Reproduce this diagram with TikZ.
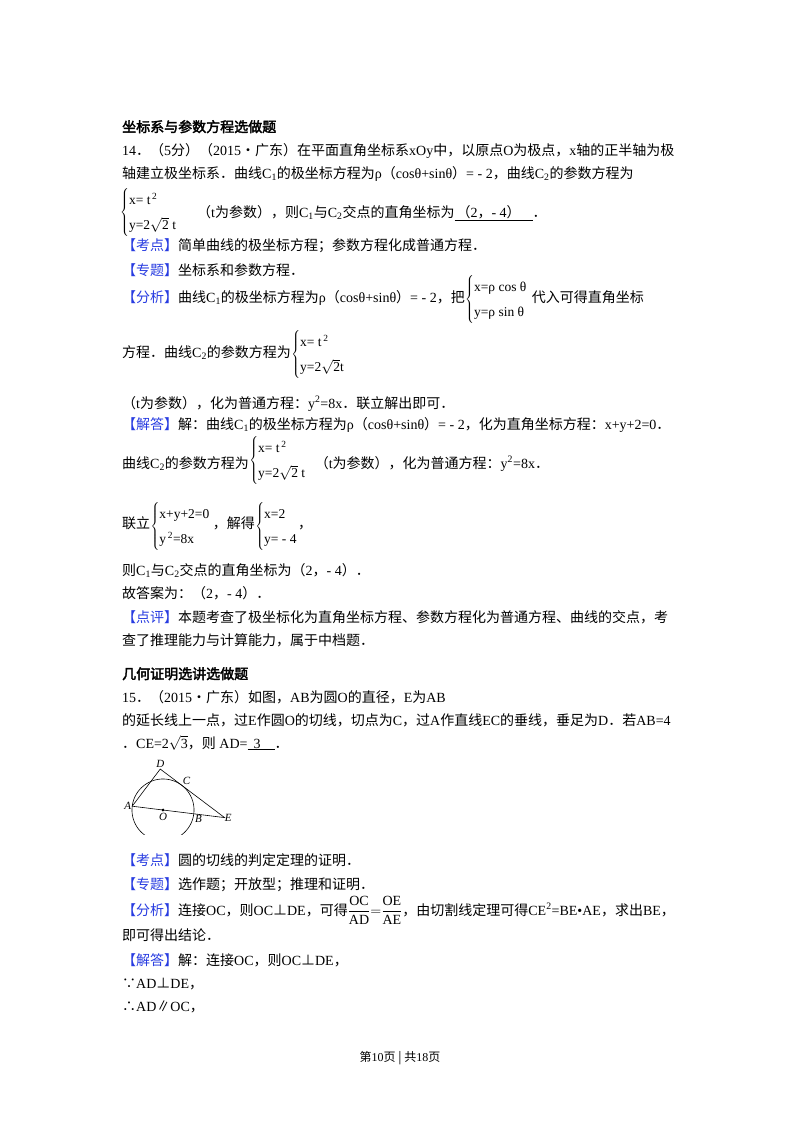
\documentclass[tikz,border=0pt]{standalone}
\usepackage{fontspec}
\setmainfont{Liberation Serif}
\newfontfamily\cjk{Noto Sans CJK SC}
\newfontfamily\cjkb[FakeBold=2.5]{Noto Sans CJK SC}
\definecolor{kblue}{RGB}{40,60,225}
\newcommand\z[1]{{\cjk #1}}
\newcommand\zb[1]{{\cjkb #1}}
\newcommand\bk[1]{\textcolor{kblue}{\z{【#1】}}}
\newcommand\sysm[2]{$\left\{\renewcommand\arraystretch{1.7}\begin{tabular}{@{}l@{}}#1\\ #2\end{tabular}\right.$}
\newcommand\rt[1]{$\sqrt{\mbox{#1}}$}
\begin{document}
\begin{tikzpicture}[x=1pt,y=-1pt,
  t/.style={anchor=base west,inner sep=0pt,font=\fontsize{14}{16}\selectfont},
  sy/.style={anchor=west,inner sep=0pt,font=\fontsize{13.5}{15}\selectfont},
  lab/.style={inner sep=0pt,font=\fontsize{11}{12}\selectfont\itshape}]
\useasboundingbox[fill=white] (0,0) rectangle (800,1132);
\node[t] (h1) at (122,132) {\zb{坐标系与参数方程选做题}};
\node[t] (l2) at (122,155) {14\z{．（}5\z{分）（}2015\z{•广东）在平面直角坐标系}xOy\z{中，以原点}O\z{为极点，}x\z{轴的正半轴为极}};
\node[t] (l3) at (122,178) {\z{轴建立极坐标系．曲线}C\textsubscript{1}\z{的极坐标方程为}ρ\z{（}cosθ+sinθ\z{）}= - 2\z{，曲线}C\textsubscript{2}\z{的参数方程为}};
\node[sy] (s1) at (120,212) {\sysm{x= t\textsuperscript{\,2}}{y=2\rt{2} t}};
\node[t] (l4) at (197,217) {\z{（}t\z{为参数），则}C\textsubscript{1}\z{与}C\textsubscript{2}\z{交点的直角坐标为}\underline{\hspace{2pt}\z{（}2\z{，}- 4\z{）}\hspace{12pt}}\z{．}};
\node[t] (l5) at (122,250) {\bk{考点}\z{简单曲线的极坐标方程；参数方程化成普通方程．}};
\node[t] (l6) at (122,275) {\bk{专题}\z{坐标系和参数方程．}};
\node[t] (l7) at (122,302) {\bk{分析}\z{曲线}C\textsubscript{1}\z{的极坐标方程为}ρ\z{（}cosθ+sinθ\z{）}= - 2\z{，把}};
\node[sy] (s2) at ([yshift=3pt]l7.base east) {\sysm{x=ρ cos θ}{y=ρ sin θ}};
\node[t] (l7b) at ([xshift=4pt]s2.east |- l7.base) {\z{代入可得直角坐标}};
\node[t] (l8) at (122,357) {\z{方程．曲线}C\textsubscript{2}\z{的参数方程为}};
\node[sy] (s3) at ([yshift=3pt]l8.base east) {\sysm{x= t\textsuperscript{\,2}}{y=2\rt{2}t}};
\node[t] (l9) at (122,408) {\z{（}t\z{为参数），化为普通方程：}y\textsuperscript{2}=8x\z{．联立解出即可．}};
\node[t] (l10) at (122,429) {\bk{解答}\z{解：曲线}C\textsubscript{1}\z{的极坐标方程为}ρ\z{（}cosθ+sinθ\z{）}= - 2\z{，化为直角坐标方程：}x+y+2=0\z{．}};
\node[t] (l11) at (122,468) {\z{曲线}C\textsubscript{2}\z{的参数方程为}};
\node[sy] (s4) at ([yshift=8pt]l11.base east) {\sysm{x= t\textsuperscript{\,2}}{y=2\rt{2} t}};
\node[t] (l11b) at ([xshift=8pt]s4.east |- l11.base) {\z{（}t\z{为参数），化为普通方程：}y\textsuperscript{2}=8x\z{．}};
\node[t] (l12) at (122,528) {\z{联立}};
\node[sy] (s5) at ([yshift=2pt]l12.base east) {\sysm{x+y+2=0}{y\textsuperscript{\,2}=8x}};
\node[t] (l12b) at ([xshift=2pt]s5.east |- l12.base) {\z{，解得}};
\node[sy] (s6) at ([yshift=2pt]l12b.base east) {\sysm{x=2}{y= - 4}};
\node[t] (l12c) at (s6.east |- l12.base) {\z{，}};
\node[t] (l13) at (122,575) {\z{则}C\textsubscript{1}\z{与}C\textsubscript{2}\z{交点的直角坐标为（}2\z{，}- 4\z{）．}};
\node[t] (l14) at (122,598) {\z{故答案为：（}2\z{，}- 4\z{）．}};
\node[t] (l15) at (122,622) {\bk{点评}\z{本题考查了极坐标化为直角坐标方程、参数方程化为普通方程、曲线的交点，考}};
\node[t] (l16) at (122,645) {\z{查了推理能力与计算能力，属于中档题．}};
\node[t] (h2) at (122,679) {\zb{几何证明选讲选做题}};
\node[t] (l17) at (122,702) {15\z{．（}2015\z{•广东）如图，}AB\z{为圆}O\z{的直径，}E\z{为}AB};
\node[t] (l18) at (122,725) {\z{的延长线上一点，过}E\z{作圆}O\z{的切线，切点为}C\z{，过}A\z{作直线}EC\z{的垂线，垂足为}D\z{．若}AB=4};
\node[t] (l19) at (122,748) {\z{．}CE=2\rt{3}\z{，则} AD=\underline{\hspace{6pt}3\hspace{14pt}}\z{．}};
% figure
\begin{scope}
\clip (120,755) rectangle (240,834);
\begin{scope}[shift={(163,810)},x={(30.8pt,-3.8pt)},y={(3.8pt,30.8pt)}]
\coordinate (O) at (0,0);
\coordinate (A) at (-1,0);
\coordinate (B) at (1,0);
\coordinate (E) at (2,0);
\coordinate (C) at (0.5,0.866);
\coordinate (D) at (-0.25,1.299);
\draw[line width=0.6pt] (O) circle [radius=1];
\draw[line width=0.6pt] (A) -- (E) -- (D) -- cycle;
\fill (O) circle [radius=0.05];
\end{scope}
\end{scope}
\node[lab,anchor=south] (lD) at ([yshift=1pt]D) {D};
\node[lab,anchor=south west] (lC) at ([xshift=1pt]C) {C};
\node[lab,anchor=east] (lA) at ([xshift=-1pt]A) {A};
\node[lab,anchor=north] (lO) at ([yshift=-3pt]O) {O};
\node[lab,anchor=north west] (lB) at ([xshift=1pt,yshift=-1pt]B) {B};
\node[lab,anchor=west] (lE) at (E) {E};
\node[t] (l20) at (122,865) {\bk{考点}\z{圆的切线的判定定理的证明．}};
\node[t] (l21) at (122,889) {\bk{专题}\z{选作题；开放型；推理和证明．}};
\node[t] (l22) at (122,915) {\bk{分析}\z{连接}OC\z{，则}OC\z{⊥}DE\z{，可得}$\displaystyle\frac{\mbox{OC}}{\mbox{AD}}{=}\frac{\mbox{OE}}{\mbox{AE}}$\z{，由切割线定理可得}CE\textsuperscript{2}=BE•AE\z{，求出}BE\z{，}};
\node[t] (l23) at (122,940) {\z{即可得出结论．}};
\node[t] (l24) at (122,965) {\bk{解答}\z{解：连接}OC\z{，则}OC\z{⊥}DE\z{，}};
\node[t] (l25) at (122,988) {\z{∵}AD\z{⊥}DE\z{，}};
\node[t] (l26) at (122,1011) {\z{∴}AD\z{∥}OC\z{，}};
\node[anchor=base,inner sep=0pt,font=\fontsize{12}{14}\selectfont] (ft) at (400,1061) {\z{第}10\z{页 | 共}18\z{页}};
\end{tikzpicture}
\end{document}
